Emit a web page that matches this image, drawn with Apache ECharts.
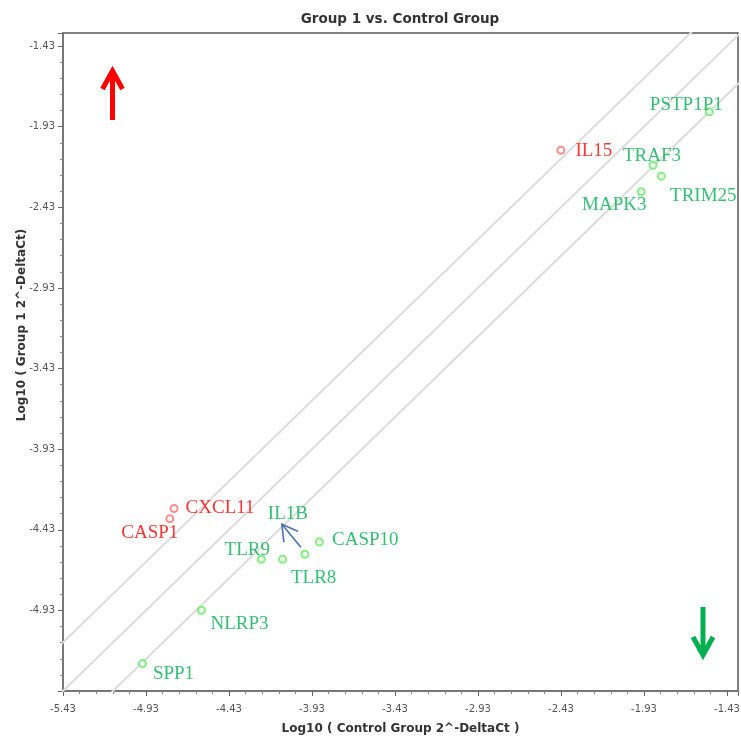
<!DOCTYPE html>
<html>
<head>
<meta charset="utf-8">
<script src="https://cdn.jsdelivr.net/npm/echarts@6/dist/echarts.min.js"></script>
<style>
  html, body { margin: 0; padding: 0; background: #fff; }
  #chart { width: 741px; height: 740px; }
</style>
</head>
<body>
<div id="chart"></div>
<script>
// Genes and their log10(2^-DeltaCt) values
const genes = ['IL15', 'PSTP1P1', 'TRAF3', 'TRIM25', 'MAPK3', 'CXCL11', 'CASP1',
               'IL1B', 'CASP10', 'TLR9', 'TLR8', 'NLRP3', 'SPP1'];
const controlLog = [-2.431, -1.537, -1.876, -1.826, -1.947, -4.761, -4.787,
                    -3.973, -3.886, -4.236, -4.107, -4.596, -4.951];
const groupLog = [-2.076, -1.838, -2.169, -2.237, -2.334, -4.298, -4.361,
                  -4.582, -4.506, -4.613, -4.613, -4.929, -5.260];
// Regulation: 1 = up, -1 = down
const regulation = [1, -1, -1, -1, -1, 1, 1, -1, -1, -1, -1, -1, -1];

// Axis settings
const axisMin = -5.43;
const xAxisMax = -1.364;
const yAxisMax = -1.349;
const tickStep = 0.5;
const foldBoundary = Math.log10(2);

// Label placement (offset of label centre from its point, in px)
const labelOffsets = {
  IL15: [33, 1], PSTP1P1: [-23, -7], TRAF3: [-1, -9], TRIM25: [42, 20],
  MAPK3: [-27, 13], CXCL11: [46, 0], CASP1: [-20, 14], IL1B: [-17, -40],
  CASP10: [46, -2], TLR9: [-14, -9], TLR8: [31, 19], NLRP3: [38, 14], SPP1: [31, 10]
};

const UP_POINT = '#ff6f6f', DOWN_POINT = '#5cf05c';
const UP_TEXT = '#ff0000', DOWN_TEXT = '#00b050';

function buildPoints(dir) {
  const out = [];
  genes.forEach((g, i) => {
    if (regulation[i] !== dir) return;
    out.push({
      name: g,
      value: [controlLog[i], groupLog[i]],
      label: { offset: labelOffsets[g] }
    });
  });
  return out;
}

// Diagonal reference lines: y = x, y = x ± log10(2)
const diagOffsets = [foldBoundary, 0, -foldBoundary];
const diagSeries = diagOffsets.map(k => ({
  type: 'line',
  silent: true,
  symbol: 'none',
  clip: true,
  z: 1,
  lineStyle: { color: '#dcdcdc', width: 2 },
  data: [[axisMin - 1, axisMin - 1 + k], [xAxisMax + 1, xAxisMax + 1 + k]]
}));

function pointSeries(dir) {
  const pc = dir > 0 ? UP_POINT : DOWN_POINT;
  const tc = dir > 0 ? UP_TEXT : DOWN_TEXT;
  return {
    type: 'scatter',
    symbol: 'emptyCircle',
    symbolSize: 7,
    z: 3,
    itemStyle: { color: pc, borderColor: pc, borderWidth: 1.6 },
    label: {
      show: true,
      position: 'inside',
      formatter: '{b}',
      color: tc,
      fontFamily: '"Liberation Serif", "DejaVu Serif", serif',
      fontSize: 19
    },
    data: buildPoints(dir)
  };
}

const axisCommon = {
  type: 'value',
  min: axisMin,
  interval: tickStep,
  nameLocation: 'middle',
  nameMoveOverlap: false,
  nameTextStyle: {
    fontFamily: '"DejaVu Sans", sans-serif',
    fontWeight: 'bold',
    fontSize: 12,
    color: '#333'
  },
  axisLine: { show: true, onZero: false, lineStyle: { color: '#777', width: 2 } },
  axisTick: { show: true, length: 5, lineStyle: { color: '#666', width: 1 } },
  minorTick: { show: true, splitNumber: 5, length: 3, lineStyle: { color: '#888', width: 1 } },
  splitLine: { show: false },
  axisLabel: {
    fontFamily: '"DejaVu Sans", sans-serif',
    fontSize: 10,
    color: '#555',
    showMaxLabel: false,
    formatter: v => v.toFixed(2)
  }
};

const chart = echarts.init(document.getElementById('chart'), null, { renderer: 'canvas' });

chart.setOption({
  backgroundColor: '#fff',
  animation: false,
  title: {
    text: 'Group 1 vs. Control Group',
    left: 395,
    top: 7,
    textAlign: 'center',
    textStyle: {
      fontFamily: '"DejaVu Sans", sans-serif',
      fontWeight: 'bold',
      fontSize: 13.5,
      color: '#333'
    }
  },
  grid: {
    left: 63, right: 3, top: 33, bottom: 49,
    containLabel: false,
    outerBoundsMode: 'none',
    show: true, borderColor: '#555', borderWidth: 1.5, backgroundColor: '#fff'
  },
  xAxis: Object.assign({}, axisCommon, {
    max: xAxisMax,
    name: 'Log10 ( Control Group 2^-DeltaCt )',
    nameGap: 32,
    axisLabel: Object.assign({}, axisCommon.axisLabel, { margin: 13 })
  }),
  yAxis: Object.assign({}, axisCommon, {
    max: yAxisMax,
    name: 'Log10 ( Group 1 2^-DeltaCt)',
    nameGap: 35,
    nameTextStyle: Object.assign({}, axisCommon.nameTextStyle, { padding: [0, 0, 0, 74] }),
    axisLabel: Object.assign({}, axisCommon.axisLabel, { margin: 8, showMinLabel: false })
  }),
  series: diagSeries.concat([pointSeries(1), pointSeries(-1)])
});

// Pointer from the IL1B label to its point, plus the up / down markers
const il1b = genes.indexOf('IL1B');
const p = chart.convertToPixel({ gridIndex: 0 }, [controlLog[il1b], groupLog[il1b]]);
const BLUE = '#4a6fb5';
chart.setOption({
  graphic: [
    { type: 'line', shape: { x1: p[0] - 4, y1: p[1] - 7, x2: p[0] - 23, y2: p[1] - 30 },
      style: { stroke: BLUE, lineWidth: 1.6 }, z: 10 },
    { type: 'polyline', shape: { points: [[p[0] - 7, p[1] - 23], [p[0] - 23, p[1] - 30], [p[0] - 21, p[1] - 12]] },
      style: { stroke: BLUE, lineWidth: 1.6, fill: null }, z: 10 },
    // red up arrow
    { type: 'line', shape: { x1: 112.5, y1: 120, x2: 112.5, y2: 72 },
      style: { stroke: '#ff0000', lineWidth: 5 }, z: 10 },
    { type: 'polyline', shape: { points: [[102.5, 89], [112.5, 71], [122.5, 89]] },
      style: { stroke: '#ff0000', lineWidth: 5, fill: null, lineJoin: 'miter' }, z: 10 },
    // green down arrow
    { type: 'line', shape: { x1: 703, y1: 607, x2: 703, y2: 654 },
      style: { stroke: '#00b050', lineWidth: 5 }, z: 10 },
    { type: 'polyline', shape: { points: [[693, 637], [703, 655], [713, 637]] },
      style: { stroke: '#00b050', lineWidth: 5, fill: null, lineJoin: 'miter' }, z: 10 }
  ]
});
</script>
</body>
</html>
